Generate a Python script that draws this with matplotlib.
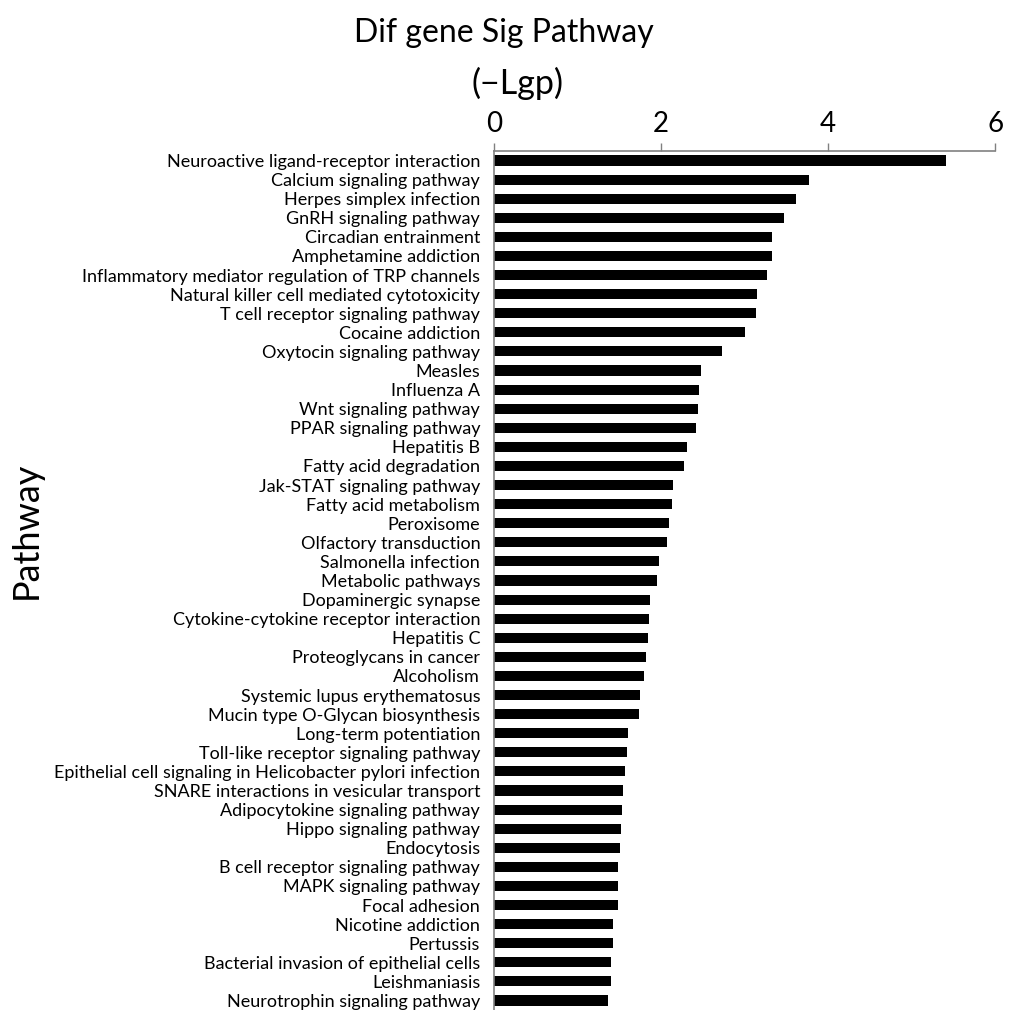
import matplotlib
matplotlib.use("Agg")
import matplotlib.pyplot as plt

plt.rcParams['font.family'] = ['Lato', 'DejaVu Sans']

pathways = [
    "Neuroactive ligand-receptor interaction",
    "Calcium signaling pathway",
    "Herpes simplex infection",
    "GnRH signaling pathway",
    "Circadian entrainment",
    "Amphetamine addiction",
    "Inflammatory mediator regulation of TRP channels",
    "Natural killer cell mediated cytotoxicity",
    "T cell receptor signaling pathway",
    "Cocaine addiction",
    "Oxytocin signaling pathway",
    "Measles",
    "Influenza A",
    "Wnt signaling pathway",
    "PPAR signaling pathway",
    "Hepatitis B",
    "Fatty acid degradation",
    "Jak-STAT signaling pathway",
    "Fatty acid metabolism",
    "Peroxisome",
    "Olfactory transduction",
    "Salmonella infection",
    "Metabolic pathways",
    "Dopaminergic synapse",
    "Cytokine-cytokine receptor interaction",
    "Hepatitis C",
    "Proteoglycans in cancer",
    "Alcoholism",
    "Systemic lupus erythematosus",
    "Mucin type O-Glycan biosynthesis",
    "Long-term potentiation",
    "Toll-like receptor signaling pathway",
    "Epithelial cell signaling in Helicobacter pylori infection",
    "SNARE interactions in vesicular transport",
    "Adipocytokine signaling pathway",
    "Hippo signaling pathway",
    "Endocytosis",
    "B cell receptor signaling pathway",
    "MAPK signaling pathway",
    "Focal adhesion",
    "Nicotine addiction",
    "Pertussis",
    "Bacterial invasion of epithelial cells",
    "Leishmaniasis",
    "Neurotrophin signaling pathway",
]

neg_log_p = [
    5.41, 3.77, 3.62, 3.47, 3.33, 3.33, 3.27, 3.15, 3.14, 3.01,
    2.73, 2.48, 2.45, 2.44, 2.42, 2.31, 2.28, 2.14, 2.13, 2.10,
    2.07, 1.98, 1.95, 1.87, 1.86, 1.84, 1.82, 1.79, 1.75, 1.74,
    1.60, 1.59, 1.57, 1.55, 1.53, 1.52, 1.51, 1.49, 1.48, 1.48,
    1.43, 1.43, 1.40, 1.40, 1.37,
]

x_ticks = [0, 2, 4, 6]

fig = plt.figure(figsize=(10.13, 10.10), dpi=100)
ax = fig.add_axes([0.4877, 0.0, 0.4946, 0.8505])

y = list(range(len(pathways)))
ax.barh(y, neg_log_p, height=0.53, color='black')
ax.set_ylim(len(pathways) - 0.5, -0.5)
ax.set_xlim(0, 6)
ax.set_yticks(y)
ax.set_yticklabels(pathways, fontsize=13)
ax.set_xticks(x_ticks)
ax.set_xticklabels([str(t) for t in x_ticks], fontsize=20)
ax.xaxis.tick_top()
ax.tick_params(axis='x', direction='out', length=6, width=1, color='#808080', pad=4)
ax.tick_params(axis='y', length=0, pad=10)

for s in ['right', 'bottom']:
    ax.spines[s].set_visible(False)
for s in ['top', 'left']:
    ax.spines[s].set_color('#808080')
    ax.spines[s].set_linewidth(1.2)

fig.text(0.497, 0.967, "Dif gene Sig Pathway", fontsize=23, ha='center', va='center')
fig.text(0.511, 0.917, "(\u2212Lgp)", fontsize=24.5, ha='center', va='center')
fig.text(0.026, 0.475, "Pathway", fontsize=26, rotation=90, ha='center', va='center')

fig.savefig("out.png", dpi=100)
